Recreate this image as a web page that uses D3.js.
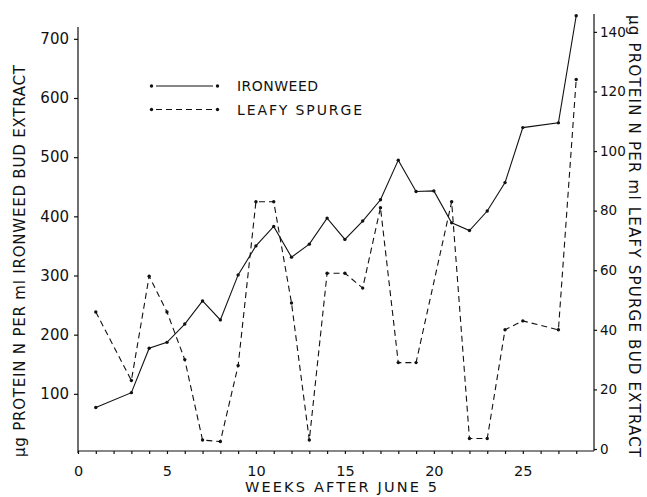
<!DOCTYPE html>
<html>
<head>
<meta charset="utf-8">
<script src="https://cdn.jsdelivr.net/npm/d3@7"></script>
<style>
  html, body { margin: 0; padding: 0; background: #fff; }
  svg { display: block; }
  text { font-family: "DejaVu Sans", "Liberation Sans", sans-serif; fill: #111; }
</style>
</head>
<body>
<svg id="chart" width="647" height="497"></svg>
<script>
// Weeks sampled after June 5
const ironweedWeeks = [1, 3, 4, 5, 6, 7, 8, 9, 10, 11, 12, 13, 14, 15, 16, 17, 18, 19, 20, 21, 22, 23, 24, 25, 27, 28];
// µg protein N per ml ironweed bud extract (left axis)
const ironweedValues = [77, 102, 177, 187, 218, 257, 225, 301, 350, 383, 331, 353, 397, 361, 392, 428, 495, 442, 443, 389, 376, 409, 457, 550, 558, 739];

const spurgeWeeks = [1, 3, 4, 5, 6, 7, 8, 9, 10, 11, 12, 13, 14, 15, 16, 17, 18, 19, 21, 22, 23, 24, 25, 27, 28];
// µg protein N per ml leafy spurge bud extract (right axis)
const spurgeValues = [46, 23, 58, 46, 30, 3, 2.5, 28, 83, 83, 49, 3, 59, 59, 54, 81, 29, 29, 83, 3.5, 3.5, 40, 43, 40, 124];

const xTickLabels = [0, 5, 10, 15, 20, 25];
const leftTicks = [100, 200, 300, 400, 500, 600, 700];
const rightTicks = [0, 20, 40, 60, 80, 100, 120, 140];

const legendLabels = ["IRONWEED", "LEAFY SPURGE"];
const xTitle = "WEEKS AFTER JUNE 5";
const leftTitle = "\u00b5g PROTEIN N PER ml IRONWEED BUD EXTRACT";
const rightTitle = "\u00b5g PROTEIN N PER ml LEAFY SPURGE BUD EXTRACT";

const svg = d3.select("#chart");
const ink = "#111";

const x = d3.scaleLinear().domain([0, 29]).range([78, 594]);
const yLeft = d3.scaleLinear().domain([0, 720]).range([453, 27]);
const yRight = d3.scaleLinear().domain([0, 146]).range([449, 14]);
const axisY = 451;

// Bottom axis: a small tick at every week, numbers every five
const xAxis = d3.axisBottom(x)
  .tickValues(d3.range(0, 29))
  .tickSize(3)
  .tickSizeOuter(0)
  .tickPadding(12)
  .tickFormat(d => xTickLabels.includes(d) ? d : "");
const gx = svg.append("g").attr("transform", `translate(0,${axisY})`).call(xAxis);
gx.select(".domain").attr("d", `M${x(0)},0H${x(29)}`);

const gl = svg.append("g").attr("transform", `translate(${x(0)},0)`)
  .call(d3.axisLeft(yLeft).tickValues(leftTicks).tickSize(4).tickSizeOuter(0).tickPadding(5));
gl.select(".domain").attr("d", `M0,${yLeft(720)}V${axisY + 2}`);

const gr = svg.append("g").attr("transform", `translate(${x(29)},0)`)
  .call(d3.axisRight(yRight).tickValues(rightTicks).tickSize(3).tickSizeOuter(0).tickPadding(3));
gr.select(".domain").attr("d", `M0,${yRight(146)}V${axisY}`);

svg.selectAll(".tick line, .domain").attr("stroke", ink).attr("stroke-width", 1.2);
svg.selectAll(".tick text").attr("fill", ink)
  .style("font-family", "'DejaVu Sans', sans-serif");
gl.selectAll(".tick text").attr("font-size", 15);
gx.selectAll(".tick text").attr("font-size", 14.5);
gr.selectAll(".tick text").attr("font-size", 13.5);

// Series
const ironData = ironweedWeeks.map((w, i) => ({ w, v: ironweedValues[i] }));
const spurgeData = spurgeWeeks.map((w, i) => ({ w, v: spurgeValues[i] }));

const ironLine = d3.line().x(d => x(d.w)).y(d => yLeft(d.v));
const spurgeLine = d3.line().x(d => x(d.w)).y(d => yRight(d.v));

svg.append("path").datum(spurgeData).attr("d", spurgeLine)
  .attr("fill", "none").attr("stroke", ink).attr("stroke-width", 1.1)
  .attr("stroke-dasharray", "6,4");
svg.append("path").datum(ironData).attr("d", ironLine)
  .attr("fill", "none").attr("stroke", ink).attr("stroke-width", 1.1);

svg.append("g").selectAll("circle").data(spurgeData).join("circle")
  .attr("cx", d => x(d.w)).attr("cy", d => yRight(d.v)).attr("r", 1.7).attr("fill", ink);
svg.append("g").selectAll("circle").data(ironData).join("circle")
  .attr("cx", d => x(d.w)).attr("cy", d => yLeft(d.v)).attr("r", 1.7).attr("fill", ink);

// Legend
const legend = svg.append("g");
const legendRows = [
  { label: legendLabels[0], y: 86, dash: null, textLen: 81 },
  { label: legendLabels[1], y: 109.5, dash: "6,4", textLen: 125 }
];
legendRows.forEach(r => {
  legend.append("line").attr("x1", 156).attr("x2", 213).attr("y1", r.y).attr("y2", r.y)
    .attr("stroke", ink).attr("stroke-width", 1.1).attr("stroke-dasharray", r.dash);
  legend.append("circle").attr("cx", 151.5).attr("cy", r.y).attr("r", 1.7).attr("fill", ink);
  legend.append("circle").attr("cx", 217.5).attr("cy", r.y).attr("r", 1.7).attr("fill", ink);
  legend.append("text").attr("x", 237).attr("y", r.y + 5).attr("font-size", 14)
    .attr("textLength", r.textLen).attr("lengthAdjust", "spacing").text(r.label);
});

// Axis titles
svg.append("text").attr("x", 245).attr("y", 492).attr("font-size", 14.5)
  .attr("textLength", 192).attr("lengthAdjust", "spacing").text(xTitle);

svg.append("text").attr("transform", "translate(25,457) rotate(-90)")
  .attr("font-size", 15).attr("textLength", 392).attr("lengthAdjust", "spacing").text(leftTitle);

svg.append("text").attr("transform", "translate(629,15) rotate(90)")
  .attr("font-size", 15).attr("textLength", 442).attr("lengthAdjust", "spacing").text(rightTitle);
</script>
</body>
</html>
